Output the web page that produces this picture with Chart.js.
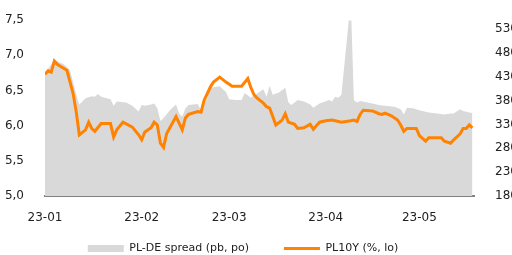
<!DOCTYPE html>
<html>
<head>
<meta charset="utf-8">
<script src="https://cdn.jsdelivr.net/npm/chart.js@4.4.0/dist/chart.umd.min.js"></script>
<style>
    html, body { margin: 0; padding: 0; background: #fff; }
</style>
</head>
<body>
<canvas id="grafico1" width="512" height="255"></canvas>
<script>
// dni liczone od 2023-01-01
const monthDays = [0, 31, 59, 90, 120]
const monthLabels = ['23-01', '23-02', '23-03', '23-04', '23-05']
const rightTicks = [180, 230, 280, 330, 380, 430, 480, 530]

// PL10Y (%, lewa os)
const plDays = [0, 1, 2, 3, 4, 7, 9, 10, 11, 13, 14, 15, 16, 18, 21, 22, 23, 25, 28, 30,
    31, 32, 34, 35, 36, 37, 38, 39, 42, 44, 45, 46, 49, 50, 51, 53, 54, 56, 58,
    60, 63, 65, 66, 67, 68, 70, 71, 72, 73, 74, 76, 77, 78, 80, 81, 83, 85, 86, 88,
    90, 92, 95, 98, 99, 100, 101, 102, 105, 107, 108, 109, 111, 113, 114, 115, 116, 119,
    120, 122, 123, 127, 128, 130, 131, 133, 134, 135, 136, 137]
const plValues = [6.73, 6.78, 6.76, 6.92, 6.87, 6.79, 6.46, 6.20, 5.87, 5.94, 6.05, 5.96, 5.92, 6.03, 6.03, 5.84, 5.94, 6.05, 5.98, 5.87,
    5.80, 5.91, 5.97, 6.05, 6.01, 5.75, 5.69, 5.89, 6.13, 5.94, 6.11, 6.16, 6.20, 6.19, 6.36, 6.55, 6.62, 6.69, 6.62,
    6.56, 6.56, 6.67, 6.54, 6.44, 6.39, 6.32, 6.27, 6.25, 6.13, 6.01, 6.08, 6.17, 6.05, 6.02, 5.96, 5.97, 6.02, 5.95, 6.05,
    6.07, 6.08, 6.05, 6.07, 6.08, 6.06, 6.16, 6.22, 6.21, 6.17, 6.16, 6.18, 6.14, 6.08, 6.01, 5.92, 5.96, 5.96,
    5.86, 5.78, 5.83, 5.83, 5.78, 5.75, 5.80, 5.88, 5.96, 5.96, 6.01, 5.97]

// PL-DE spread (pb, prawa os)
const spreadDays = [0, 3, 6, 8, 9, 10, 11, 13, 15, 16, 17, 18, 21, 22, 23, 26, 28, 30,
    31, 32, 34, 35, 36, 37, 38, 40, 42, 43, 44, 45, 46, 49, 50, 52, 53, 56, 57, 58,
    59, 61, 63, 64, 66, 68, 70, 71, 72, 73, 75, 77, 78, 79, 81, 83, 85, 86, 88,
    91, 92, 93, 94, 95, 98, 99, 100, 101, 105, 107, 109, 112, 114, 115, 116, 118,
    120, 123, 127, 128, 130, 131, 133, 134, 136, 137]
const spreadValues = [438, 465, 456, 444, 419, 392, 372, 385, 389, 388, 394, 388, 383, 369, 378, 376, 369, 357,
    371, 369, 372, 374, 364, 337, 343, 360, 372, 353, 346, 364, 371, 373, 360, 385, 407, 410, 404, 398,
    383, 381, 381, 396, 386, 395, 404, 388, 411, 392, 397, 407, 376, 371, 381, 378, 372, 365, 374,
    381, 378, 388, 386, 392, 590, 381, 376, 379, 374, 371, 369, 367, 362, 351, 365, 364,
    360, 355, 352, 351, 353, 353, 362, 358, 355, 354]

const legendShift = { x: -13, y: -17 }

const ctx = document.getElementById('grafico1')

// legenda: przesuniecie w lewo i w gore (obszar przyciecia rosnie razem z nia)
const przesunLegende = {
    id: 'przesunLegende',
    afterLayout(chart) {
        const lg = chart.legend
        lg.left += legendShift.x
        lg.right += legendShift.x
        lg.top += legendShift.y
        lg.bottom = chart.height
    }
}

let grafico1 = new Chart(ctx, {
    type: 'line',
    data: {
        datasets: [{
            label: 'PL10Y (%, lo)',
            data: plDays.map((d, i) => ({ x: d, y: plValues[i] })),
            yAxisID: 'y',
            borderColor: '#ff8200',
            backgroundColor: '#ff8200',
            borderWidth: 3,
            pointRadius: 0,
            pointStyle: 'line',
            tension: 0,
            fill: false
        }, {
            label: 'PL-DE spread (pb, po)',
            data: spreadDays.map((d, i) => ({ x: d, y: spreadValues[i] })),
            yAxisID: 'y1',
            borderWidth: 0,
            borderColor: '#d9d9d9',
            backgroundColor: '#d9d9d9',
            pointRadius: 0,
            pointStyle: 'rect',
            tension: 0,
            fill: 'start'
        }]
    },
    options: {
        responsive: false,
        animation: false,
        devicePixelRatio: 1,
        layout: { padding: { top: 13, bottom: 0, left: 0, right: 0 } },
        plugins: {
            tooltip: { enabled: false },
            legend: {
                position: 'bottom',
                reverse: true,
                maxHeight: 30,
                labels: {
                    usePointStyle: true,
                    pointStyleWidth: 36,
                    boxWidth: 36,
                    boxHeight: 7,
                    padding: 35,
                    color: '#222',
                    font: { family: 'DejaVu Sans', size: 11 }
                }
            }
        },
        scales: {
            x: {
                type: 'linear',
                min: 0,
                max: 137.5,
                grid: { display: false },
                border: { display: true, color: '#808080', width: 2 },
                afterBuildTicks: s => { s.ticks = monthDays.map(v => ({ value: v })) },
                afterFit: s => { s.height = 29 },
                ticks: {
                    autoSkip: false,
                    maxRotation: 0,
                    padding: 7,
                    color: '#222',
                    font: { family: 'DejaVu Sans', size: 12 },
                    callback: v => {
                        const i = monthDays.indexOf(v)
                        return i >= 0 ? monthLabels[i] : ''
                    }
                }
            },
            y: {
                position: 'left',
                min: 5,
                max: 7.5,
                grid: { display: false },
                border: { display: false },
                afterFit: s => { s.width = 45 },
                ticks: {
                    stepSize: 0.5,
                    padding: 13,
                    color: '#222',
                    font: { family: 'DejaVu Sans', size: 12 },
                    callback: v => v.toFixed(1).replace('.', ',')
                }
            },
            y1: {
                position: 'right',
                min: 180,
                max: 548.5,
                grid: { display: false },
                border: { display: false },
                afterBuildTicks: s => { s.ticks = rightTicks.map(v => ({ value: v })) },
                afterFit: s => { s.width = 38 },
                ticks: {
                    padding: 13,
                    color: '#222',
                    font: { family: 'DejaVu Sans', size: 12 }
                }
            }
        }
    },
    plugins: [przesunLegende]
})
</script>
</body>
</html>
